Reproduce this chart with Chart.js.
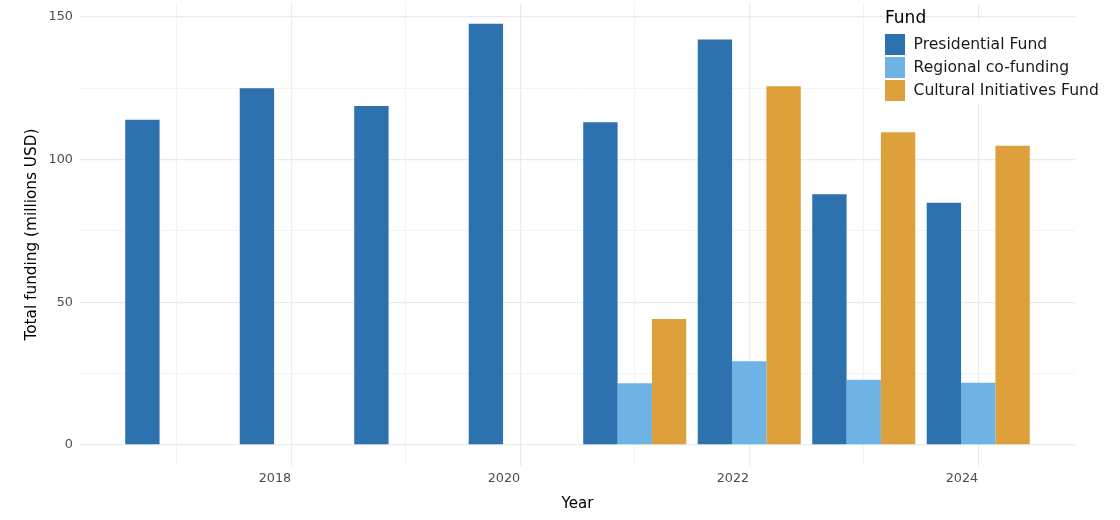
<!DOCTYPE html>
<html>
<head>
<meta charset="utf-8">
<script src="https://cdn.jsdelivr.net/npm/chart.js@4.4.1/dist/chart.umd.min.js"></script>
<style>
  html, body { margin: 0; padding: 0; background: #fff; }
  #wrap { width: 1120px; height: 520px; }
</style>
</head>
<body>
<div id="wrap"><canvas id="funding-chart" width="1120" height="520"></canvas></div>
<script>
// Funding by year, three funds (millions USD)
const years = [2017, 2018, 2019, 2020, 2021, 2022, 2023, 2024];
const presidential = [114.0, 125.0, 118.8, 147.6, 113.1, 142.1, 87.9, 84.9];
const regional = [null, null, null, null, 21.6, 29.3, 22.8, 21.8];
const cultural = [null, null, null, null, 44.1, 125.7, 109.6, 104.9];

const fundNames = ['Presidential Fund', 'Regional co-funding', 'Cultural Initiatives Fund'];
const fundColors = ['#2E71AF', '#6EB3E4', '#DDA03A'];

const yTicks = [0, 25, 50, 75, 100, 125, 150];
const yLabelled = [0, 50, 100, 150];
const xLabelled = [2018, 2020, 2022, 2024];

const FONT = "'DejaVu Sans', 'Liberation Sans', sans-serif";

function toPoints(values) {
  return years.map((x, i) => ({ x, y: values[i] }));
}

// ggplot-like legend drawn in the top-right corner of the panel
const fundLegend = {
  id: 'fundLegend',
  afterDraw(chart) {
    const ctx = chart.ctx;
    const x0 = 885, y0 = 34, key = 21, pitch = 23;
    ctx.save();
    ctx.fillStyle = '#ffffff';
    ctx.fillRect(882, 20, 230, 84);
    ctx.fillStyle = '#000000';
    ctx.font = `17px ${FONT}`;
    ctx.textBaseline = 'middle';
    ctx.textAlign = 'left';
    ctx.fillText('Fund', x0, 18.5);
    ctx.font = `15.6px ${FONT}`;
    chart.data.datasets.forEach((ds, i) => {
      const y = y0 + i * pitch;
      ctx.fillStyle = ds.backgroundColor;
      ctx.fillRect(x0, y, key - 1, key);
      ctx.fillStyle = '#1a1a1a';
      ctx.fillText(ds.label, 913.5, y + key / 2);
    });
    ctx.restore();
  }
};

const chart = new Chart(document.getElementById('funding-chart'), {
  type: 'bar',
  data: {
    datasets: [
      { label: fundNames[0], data: toPoints(presidential), backgroundColor: fundColors[0] },
      { label: fundNames[1], data: toPoints(regional), backgroundColor: fundColors[1] },
      { label: fundNames[2], data: toPoints(cultural), backgroundColor: fundColors[2] },
    ],
  },
  options: {
    responsive: false,
    animation: false,
    devicePixelRatio: 1,
    layout: { padding: { top: 3, right: 45, bottom: 0, left: 0 } },
    datasets: { bar: { categoryPercentage: 0.9, barPercentage: 1.0, borderWidth: 0 } },
    plugins: { legend: { display: false }, tooltip: { enabled: false } },
    scales: {
      x: {
        type: 'linear',
        min: 2016.155, max: 2024.845,
        offset: false,
        afterBuildTicks: s => { s.ticks = years.map(v => ({ value: v })); },
        afterFit: s => { s.height = 54; s.paddingLeft = 0; s.paddingRight = 0; },
        ticks: {
          autoSkip: false, maxRotation: 0, align: 'end', padding: 5,
          color: '#4d4d4d', font: { family: FONT, size: 12.8 },
          callback: v => xLabelled.includes(v) ? String(v) : '',
        },
        grid: {
          offset: false, drawTicks: false,
          color: c => xLabelled.includes(c.tick && c.tick.value) ? '#ebebeb' : '#f3f3f3',
          lineWidth: c => xLabelled.includes(c.tick && c.tick.value) ? 1.2 : 1,
        },
        border: { display: false },
        title: {
          display: true, text: 'Year', color: '#000',
          font: { family: FONT, size: 15 }, padding: { top: 0, bottom: 7 },
        },
      },
      y: {
        min: -7.4, max: 154.9,
        afterBuildTicks: s => { s.ticks = yTicks.map(v => ({ value: v })); },
        afterFit: s => { s.width = 80; s.paddingTop = 0; s.paddingBottom = 0; },
        ticks: {
          padding: 7, color: '#4d4d4d', font: { family: FONT, size: 12.8 },
          callback: v => yLabelled.includes(v) ? String(v) : '',
        },
        grid: {
          drawTicks: false,
          color: c => yLabelled.includes(c.tick && c.tick.value) ? '#ebebeb' : '#f3f3f3',
          lineWidth: c => yLabelled.includes(c.tick && c.tick.value) ? 1.2 : 1,
        },
        border: { display: false },
        title: {
          display: true, text: 'Total funding (millions USD)', color: '#000',
          font: { family: FONT, size: 15.3 }, padding: { top: 23, bottom: 0 },
        },
      },
    },
  },
  plugins: [fundLegend],
});
</script>
</body>
</html>
